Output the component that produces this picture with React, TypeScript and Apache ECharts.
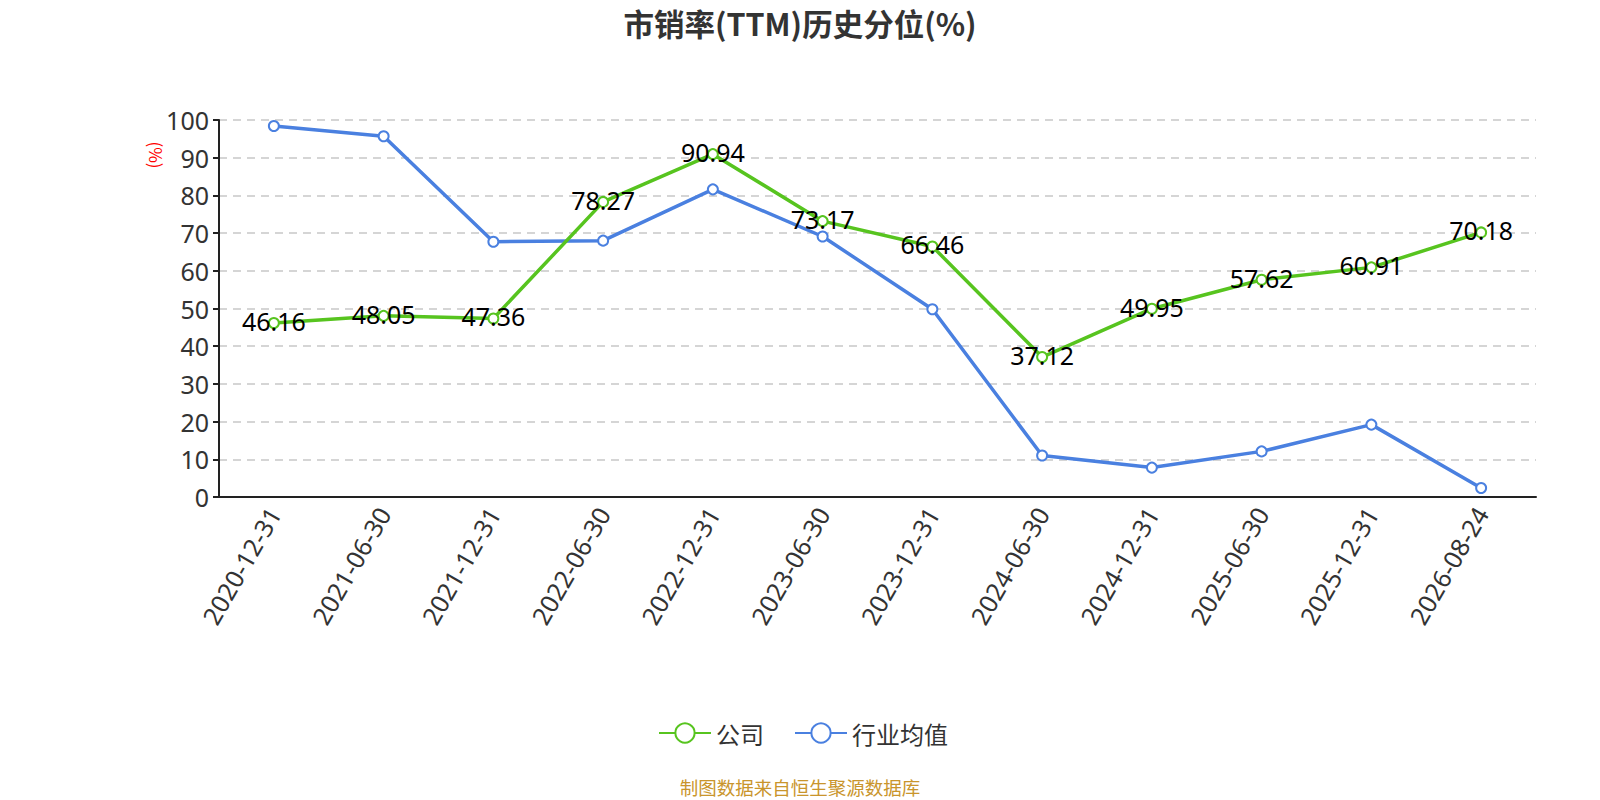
import React, { useEffect, useRef } from "react";
import * as echarts from "echarts";

const categories = [
  "2020-12-31", "2021-06-30", "2021-12-31", "2022-06-30", "2022-12-31", "2023-06-30",
  "2023-12-31", "2024-06-30", "2024-12-31", "2025-06-30", "2025-12-31", "2026-08-24",
];
const companyValues = [46.16, 48.05, 47.36, 78.27, 90.94, 73.17, 66.46, 37.12, 49.95, 57.62, 60.91, 70.18];
const industryValues = [98.4, 95.7, 67.7, 68.0, 81.6, 69.1, 49.8, 11.0, 7.8, 12.1, 19.2, 2.4];
const yTicks = { min: 0, max: 100, interval: 10 };

export default function App() {
  const ref = useRef<HTMLDivElement>(null);
  useEffect(() => {
    if (!ref.current) return;
    const chart = echarts.init(ref.current, null, { renderer: "svg" });
    chart.setOption({
      animation: false,
      backgroundColor: "#ffffff",
      legend: {
        top: 716,
        left: 653,
        itemWidth: 52,
        itemHeight: 24,
        itemGap: 30,
        textStyle: { fontSize: 24, color: "#333", fontFamily: "Noto Sans CJK SC" },
        data: ["公司", "行业均值"],
      },
      graphic: [
        {
          type: "text",
          x: 800,
          y: 23,
          style: {
            text: "市销率(TTM)历史分位(%)",
            fill: "#333",
            fontSize: 30.5,
            fontWeight: "bold",
            fontFamily: "Noto Sans CJK SC",
            textAlign: "center",
            textVerticalAlign: "middle",
          },
        },
        {
          type: "text",
          x: 800,
          y: 787,
          style: {
            text: "制图数据来自恒生聚源数据库",
            fill: "#c9952c",
            fontSize: 18.5,
            fontFamily: "Noto Sans CJK SC",
            textAlign: "center",
            textVerticalAlign: "middle",
          },
        },
        {
          type: "text",
          x: 156,
          y: 155,
          rotation: -Math.PI / 2,
          style: {
            text: "(%)",
            fill: "#ff0000",
            fontSize: 17,
            fontFamily: "Noto Sans CJK SC",
            textAlign: "center",
            textVerticalAlign: "middle",
          },
        },
      ],
      grid: { left: 219, right: 64, top: 120, bottom: 303 },
      xAxis: {
        type: "category",
        data: categories,
        boundaryGap: true,
        axisLine: { lineStyle: { color: "#222", width: 2 } },
        axisTick: { length: 6, lineStyle: { color: "#222", width: 2 } },
        axisLabel: { rotate: 60, fontSize: 25, color: "#333", margin: 12, fontFamily: "Noto Sans" },
      },
      yAxis: {
        type: "value",
        min: yTicks.min,
        max: yTicks.max,
        interval: yTicks.interval,
        axisLine: { show: true, lineStyle: { color: "#222", width: 2 } },
        axisTick: { show: true, length: 6, lineStyle: { color: "#222", width: 2 } },
        axisLabel: { fontSize: 25, color: "#333", margin: 10, fontFamily: "Noto Sans" },
        splitLine: { lineStyle: { type: [8, 6], color: "#c8c8c8", width: 1.5 } },
      },
      series: [
        {
          name: "公司",
          type: "line",
          data: companyValues,
          symbol: "emptyCircle",
          symbolSize: 10,
          color: "#57c41f",
          lineStyle: { width: 3.5 },
          itemStyle: { borderWidth: 2 },
          label: {
            show: true,
            position: "inside",
            fontSize: 25,
            color: "#000",
            fontFamily: "Noto Sans",
            offset: [0, -2],
          },
          z: 3,
        },
        {
          name: "行业均值",
          type: "line",
          data: industryValues,
          symbol: "emptyCircle",
          symbolSize: 10,
          color: "#4a80e0",
          lineStyle: { width: 3.5 },
          itemStyle: { borderWidth: 2 },
          z: 2,
        },
      ],
    });
    return () => chart.dispose();
  }, []);
  return (
    <div
      ref={ref}
      style={{ position: "absolute", left: 0, top: 0, width: 1600, height: 800, background: "#fff" }}
    />
  );
}
